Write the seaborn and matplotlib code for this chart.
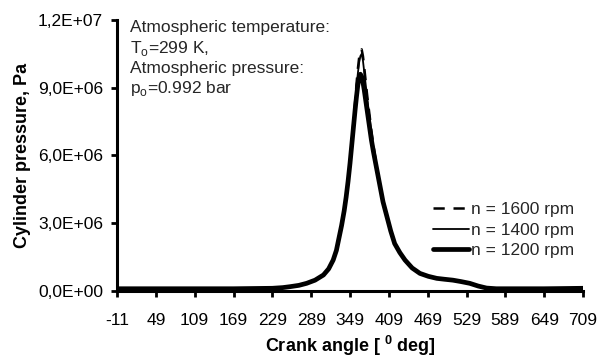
import numpy as np
import pandas as pd
import matplotlib
matplotlib.use("Agg")
import matplotlib.pyplot as plt
from matplotlib.ticker import FuncFormatter
import seaborn as sns

# crank angle grid (deg) and cylinder pressure readings (MPa) per engine speed
crank_angle = [-11, 49, 109, 169, 229, 245, 256, 270, 282, 295,
               308, 316, 323, 328, 332, 336, 340, 343, 346, 349,
               352, 355, 357, 359, 361, 363, 365, 367, 369, 371,
               373, 375, 377, 380, 382, 385, 387, 390, 394, 400,
               406, 412, 418, 426, 434, 445, 457, 470, 483, 495,
               508, 520, 534, 547, 560, 575, 589, 620, 649, 680, 709]

p_1200 = [0.10, 0.10, 0.10, 0.10, 0.12, 0.15, 0.19, 0.25, 0.34, 0.48,
          0.71, 0.98, 1.37, 1.80, 2.35, 2.90, 3.55, 4.15, 4.85, 5.65,
          6.55, 7.45, 8.05, 8.60, 9.10, 9.45, 9.60, 9.50, 9.25, 8.90,
          8.50, 8.10, 7.70, 7.10, 6.70, 6.20, 5.90, 5.45, 4.85, 3.95,
          3.30, 2.65, 2.10, 1.70, 1.37, 1.02, 0.78, 0.65, 0.56, 0.52,
          0.48, 0.42, 0.34, 0.22, 0.13, 0.10, 0.10, 0.10, 0.10, 0.11, 0.12]
p_1400 = [0.10, 0.10, 0.10, 0.10, 0.12, 0.15, 0.19, 0.25, 0.34, 0.48,
          0.71, 0.98, 1.37, 1.80, 2.35, 2.90, 3.55, 4.15, 4.85, 5.70,
          6.65, 7.60, 8.30, 9.00, 9.60, 10.10, 10.40, 10.50, 10.20, 9.70,
          9.20, 8.70, 8.20, 7.50, 7.00, 6.40, 6.05, 5.55, 4.85, 3.95,
          3.30, 2.65, 2.10, 1.70, 1.37, 1.02, 0.78, 0.65, 0.56, 0.52,
          0.48, 0.42, 0.34, 0.22, 0.13, 0.10, 0.10, 0.10, 0.10, 0.11, 0.12]
p_1600 = [0.10, 0.10, 0.10, 0.10, 0.12, 0.15, 0.19, 0.25, 0.34, 0.48,
          0.71, 0.98, 1.37, 1.80, 2.35, 2.90, 3.55, 4.15, 4.85, 5.72,
          6.70, 7.70, 8.40, 9.15, 9.80, 10.30, 10.60, 10.70, 10.40, 9.90,
          9.35, 8.80, 8.30, 7.60, 7.10, 6.50, 6.10, 5.60, 4.85, 3.95,
          3.30, 2.65, 2.10, 1.70, 1.37, 1.02, 0.78, 0.65, 0.56, 0.52,
          0.48, 0.42, 0.34, 0.22, 0.13, 0.10, 0.10, 0.10, 0.10, 0.11, 0.12]

x_ticks = [-11, 49, 109, 169, 229, 289, 349, 409, 469, 529, 589, 649, 709]
y_ticks = [0, 3e6, 6e6, 9e6, 1.2e7]

df = pd.DataFrame({"angle": crank_angle,
                   "1200": np.array(p_1200) * 1e6,
                   "1400": np.array(p_1400) * 1e6,
                   "1600": np.array(p_1600) * 1e6})

sns.set_style("ticks")
plt.rcParams["font.family"] = ["Liberation Sans", "DejaVu Sans"]
plt.rcParams["mathtext.fontset"] = "custom"
plt.rcParams["mathtext.rm"] = "Liberation Sans"
plt.rcParams["mathtext.bf"] = "Liberation Sans:bold"
plt.rcParams["axes.unicode_minus"] = False

fig = plt.figure(figsize=(6.08, 3.61), dpi=100)
ax = fig.add_axes([117 / 608, 1 - 291 / 361, 466 / 608, 271 / 361])

# thick line first so the thinner ones stay visible on top
sns.lineplot(data=df, x="angle", y="1200", ax=ax, color="black", lw=3.4)
sns.lineplot(data=df, x="angle", y="1400", ax=ax, color="black", lw=1.3)
sns.lineplot(data=df, x="angle", y="1600", ax=ax, color="black", lw=1.8, linestyle=(0, (4.5, 3.5)))
lines = ax.get_lines()
ax.legend([lines[2], lines[1], lines[0]], ["n = 1600 rpm", "n = 1400 rpm", "n = 1200 rpm"],
          loc="center left", bbox_to_anchor=(433 / 608, 1 - 230 / 361),
          bbox_transform=fig.transFigure, frameon=False, fontsize=12.5,
          handlelength=2.1, handletextpad=0.1, labelspacing=0.3,
          borderpad=0, borderaxespad=0)

ax.set_xlim(-11, 709)
ax.set_ylim(0, 1.2e7)
ax.set_xticks(x_ticks)
ax.set_yticks(y_ticks)
ax.yaxis.set_major_formatter(FuncFormatter(lambda v, pos: f"{v:.1E}".replace(".", ",")))
ax.tick_params(axis="both", labelsize=12.5, length=4, width=2, direction="out",
               colors="black")
ax.tick_params(axis="y", pad=6)
ax.tick_params(axis="x", pad=12)
for s in ["left", "bottom"]:
    ax.spines[s].set_linewidth(2.2)
    ax.spines[s].set_color("black")
sns.despine(ax=ax)

ax.set_xlabel(r"Crank angle [ $^\mathbf{0}$ deg]", fontsize=13, fontweight="bold",
              labelpad=4, color="black")
ax.set_ylabel("Cylinder pressure, Pa", fontsize=13, fontweight="bold", labelpad=5,
              color="black")

ax.text(130 / 608, 1 - 20 / 361, "Atmospheric temperature:\nT$_\\mathrm{o}$=299 K,\n"
        "Atmospheric pressure:\np$_\\mathrm{o}$=0.992 bar",
        transform=fig.transFigure, fontsize=12.5, va="top", ha="left", linespacing=1.25)

fig.savefig("out.png", dpi=100)
